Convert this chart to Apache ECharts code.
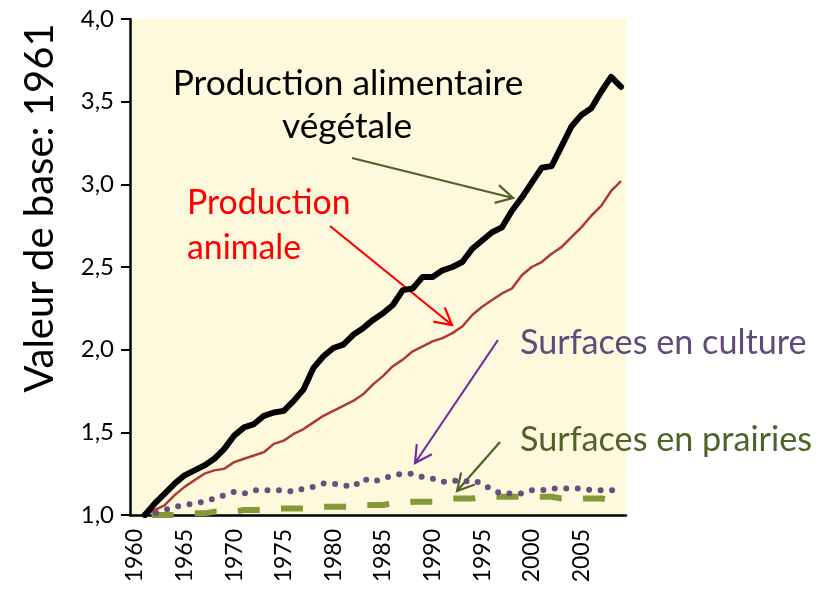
<!DOCTYPE html>
<html>
<head>
<meta charset="utf-8">
<script src="https://cdn.jsdelivr.net/npm/echarts@6/dist/echarts.min.js"></script>
<style>
  html, body { margin: 0; padding: 0; background: #fff; }
  #main { width: 838px; height: 592px; }
</style>
</head>
<body>
<div id="main"></div>
<script>
// années (catégories), la série commence en 1961
var years = [];
for (var y = 1960; y <= 2009; y++) years.push(String(y));

// indices, base 1961 = 1,0
var prodVegetale = [1.00, 1.07, 1.13, 1.19, 1.24, 1.27, 1.30, 1.34, 1.40, 1.48,
  1.53, 1.55, 1.60, 1.62, 1.63, 1.69, 1.76, 1.89, 1.96, 2.01,
  2.03, 2.09, 2.13, 2.18, 2.22, 2.27, 2.36, 2.37, 2.44, 2.44,
  2.48, 2.50, 2.53, 2.61, 2.66, 2.71, 2.74, 2.84, 2.92, 3.01,
  3.10, 3.11, 3.23, 3.35, 3.42, 3.46, 3.56, 3.65, 3.59];
var prodAnimale = [1.00, 1.03, 1.06, 1.12, 1.17, 1.21, 1.25, 1.27, 1.28, 1.32,
  1.34, 1.36, 1.38, 1.43, 1.45, 1.49, 1.52, 1.56, 1.60, 1.63,
  1.66, 1.69, 1.73, 1.79, 1.84, 1.90, 1.94, 1.99, 2.02, 2.05,
  2.07, 2.10, 2.14, 2.21, 2.26, 2.30, 2.34, 2.37, 2.45, 2.50,
  2.53, 2.58, 2.62, 2.68, 2.74, 2.81, 2.87, 2.96, 3.02];
var surfCulture = [1.00, 1.01, 1.03, 1.05, 1.06, 1.07, 1.08, 1.10, 1.12, 1.14,
  1.13, 1.15, 1.15, 1.15, 1.15, 1.14, 1.16, 1.17, 1.19, 1.19,
  1.18, 1.17, 1.22, 1.20, 1.22, 1.24, 1.25, 1.25, 1.23, 1.22,
  1.20, 1.21, 1.20, 1.21, 1.19, 1.15, 1.13, 1.13, 1.13, 1.15,
  1.15, 1.16, 1.16, 1.16, 1.16, 1.15, 1.15, 1.15, 1.14];
var surfPrairies = [1.00, 1.00, 1.00, 1.00, 1.00, 1.01, 1.01, 1.02, 1.02, 1.02,
  1.03, 1.03, 1.03, 1.04, 1.04, 1.04, 1.04, 1.04, 1.05, 1.05,
  1.05, 1.05, 1.06, 1.06, 1.06, 1.07, 1.07, 1.08, 1.08, 1.08,
  1.09, 1.10, 1.10, 1.10, 1.11, 1.11, 1.11, 1.11, 1.11, 1.11,
  1.11, 1.11, 1.10, 1.10, 1.10, 1.10, 1.10, 1.09, 1.09];

var FONT = 'Lato, "Open Sans", sans-serif';

function withBlank(arr) { return [null].concat(arr); }

function txt(s, x, y, color, align, size) {
  return {
    type: 'text', x: x, y: y, z: 100,
    style: { text: s, fill: color, font: (size || 34) + 'px ' + FONT, textAlign: align || 'left', textVerticalAlign: 'middle' }
  };
}

function arrow(x1, y1, x2, y2, color) {
  var a = Math.atan2(y2 - y1, x2 - x1), L = 19, s = 0.5;
  return {
    type: 'group', z: 100,
    children: [
      { type: 'line', shape: { x1: x1, y1: y1, x2: x2, y2: y2 }, style: { stroke: color, lineWidth: 2.2 } },
      { type: 'polyline', shape: { points: [
          [x2 - L * Math.cos(a - s), y2 - L * Math.sin(a - s)], [x2, y2],
          [x2 - L * Math.cos(a + s), y2 - L * Math.sin(a + s)]] },
        style: { stroke: color, lineWidth: 2.2, fill: null } }
    ]
  };
}

var myChart = echarts.init(document.getElementById('main'));
var option = {
  backgroundColor: '#fff',
  animation: false,
  grid: { left: 130, right: 212, top: 19, bottom: 77, show: true, backgroundColor: '#FEF9DC', borderWidth: 0 },
  xAxis: {
    type: 'category',
    data: years,
    boundaryGap: true,
    axisLine: { lineStyle: { color: '#000', width: 2.5 } },
    axisTick: { interval: 4, length: 9, lineStyle: { color: '#000', width: 2 } },
    axisLabel: { interval: 4, rotate: 90, margin: 14, color: '#000', fontSize: 23, fontFamily: FONT },
    splitLine: { show: false }
  },
  yAxis: {
    type: 'value',
    min: 1, max: 4, interval: 0.5,
    axisLine: { show: true, lineStyle: { color: '#000', width: 2.5 } },
    axisTick: { show: true, length: 9, lineStyle: { color: '#000', width: 2 } },
    axisLabel: {
      color: '#000', fontSize: 24, fontFamily: FONT, margin: 16,
      formatter: function (v) { return v.toFixed(1).replace('.', ','); }
    },
    splitLine: { show: false }
  },
  series: [
    {
      name: 'Surfaces en prairies', type: 'line', data: withBlank(surfPrairies), symbol: 'none',
      lineStyle: { color: '#83993A', width: 6, type: [22, 21.3], dashOffset: 36.6, cap: 'butt' }
    },
    {
      name: 'Surfaces en culture', type: 'line', data: withBlank(surfCulture), symbol: 'none',
      lineStyle: { color: '#6A4E7E', width: 6, type: [0, 11.5], cap: 'round' }
    },
    {
      name: 'Production animale', type: 'line', data: withBlank(prodAnimale), symbol: 'none',
      lineStyle: { color: '#A93C35', width: 2.5, join: 'round' }
    },
    {
      name: 'Production alimentaire végétale', type: 'line', data: withBlank(prodVegetale), symbol: 'none',
      lineStyle: { color: '#000', width: 6, join: 'round', cap: 'round' }
    }
  ],
  graphic: [
    {
      type: 'text', x: 40, y: 208, rotation: Math.PI / 2, z: 100,
      style: { text: 'Valeur de base: 1961', fill: '#000', font: '40px ' + FONT, textAlign: 'center', textVerticalAlign: 'middle' }
    },
    txt('Production alimentaire', 348, 84, '#000', 'center', 35.3),
    txt('végétale', 347, 127, '#000', 'center', 35.3),
    txt('Production', 187, 203, '#FF0000', 'left', 33.8),
    txt('animale', 187, 248, '#FF0000', 'left', 33.8),
    txt('Surfaces en culture', 520, 343, '#604A7B', 'left', 34.2),
    txt('Surfaces en prairies', 520, 440, '#4F6228', 'left', 34.2),
    arrow(352, 158, 513, 198, '#4F6228'),
    arrow(330, 226, 452, 325, '#FF0000'),
    arrow(498, 340, 415, 463, '#7030A0'),
    arrow(500, 442, 457, 491, '#4F6228')
  ]
};
myChart.setOption(option);
window.addEventListener('resize', function () {
  myChart.resize();
});
</script>
</body>
</html>
